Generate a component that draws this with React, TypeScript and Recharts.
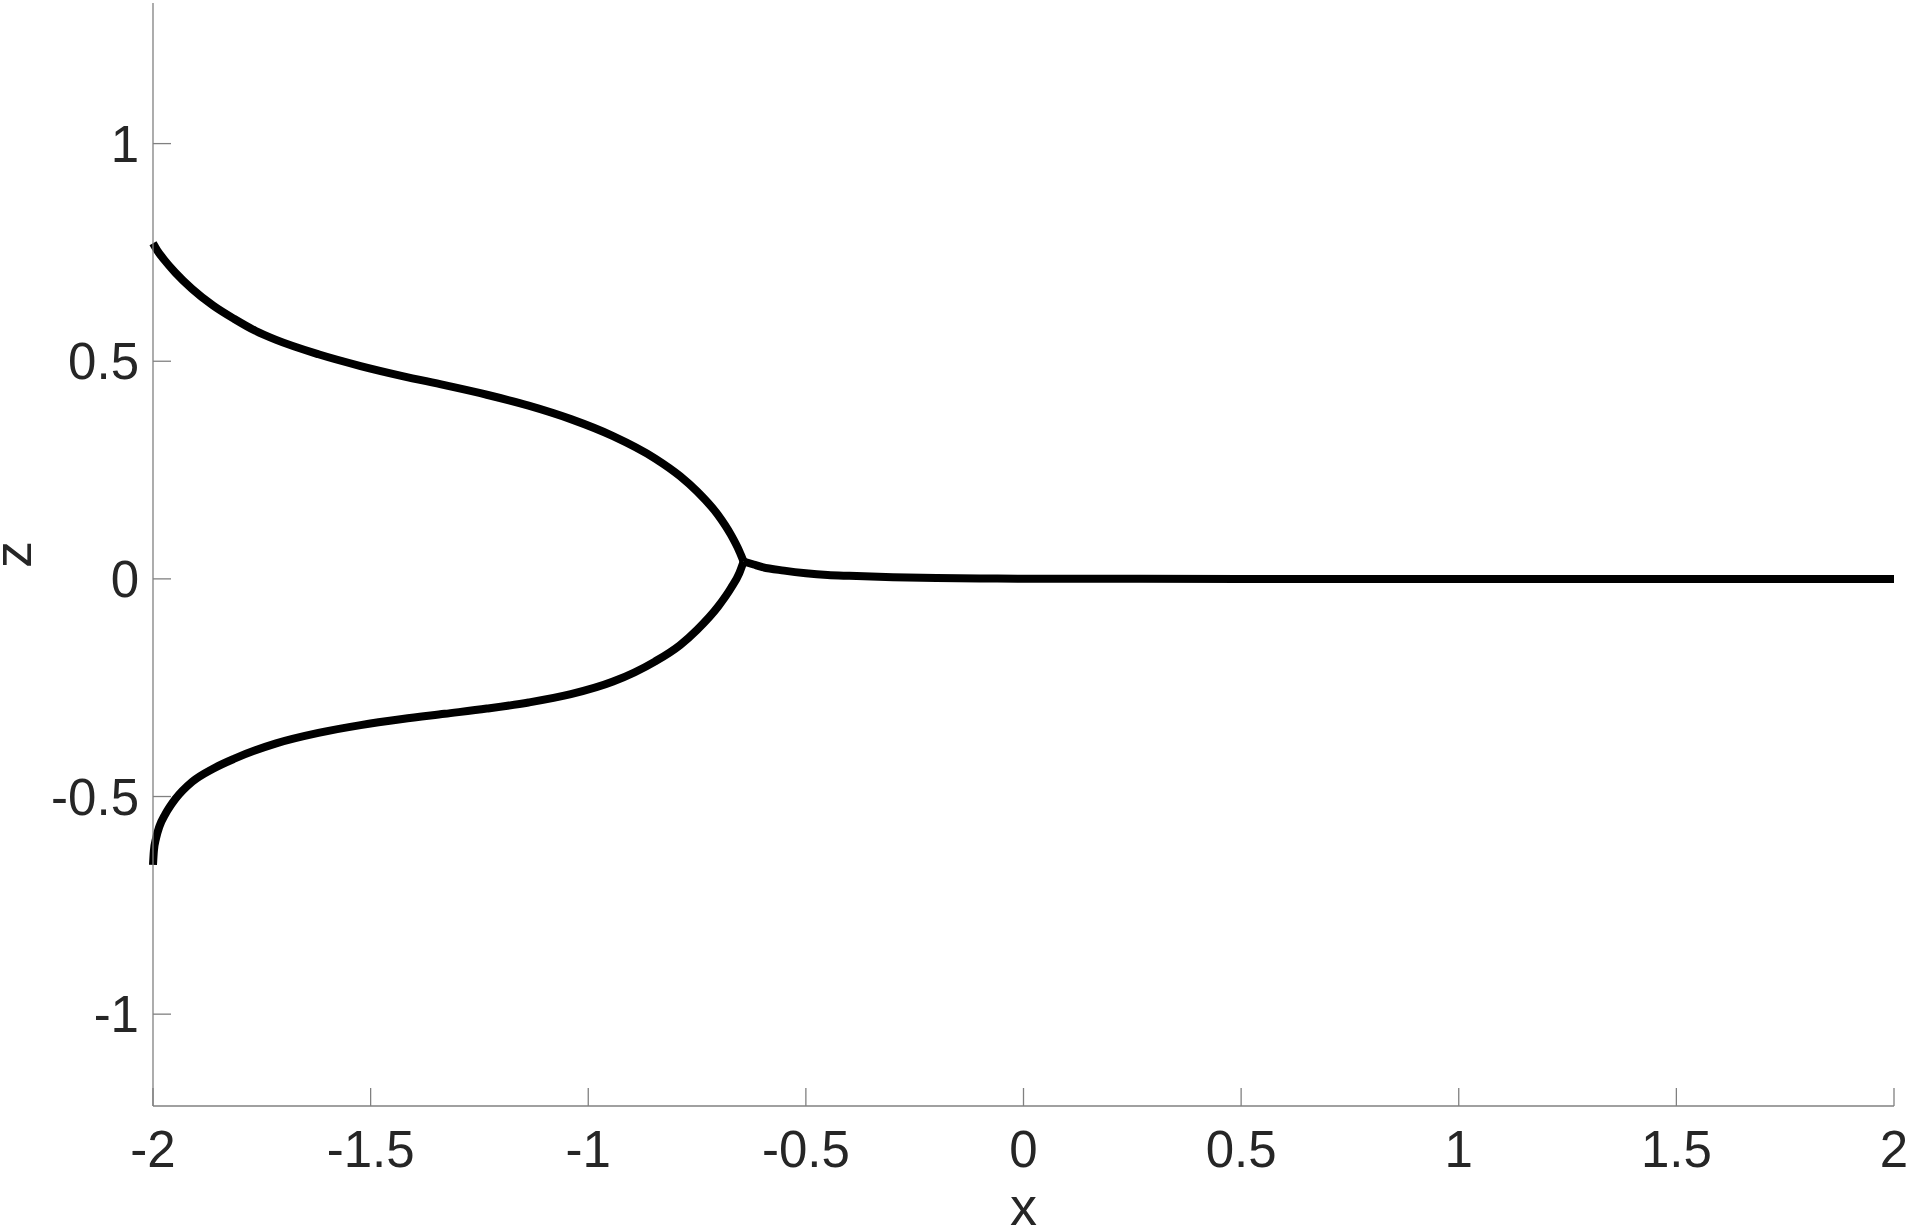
import React from 'react';
import { LineChart, Line, XAxis, YAxis, Label } from 'recharts';

const upperX = [-2.0, -1.99, -1.975, -1.949, -1.910, -1.862, -1.813, -1.765, -1.717, -1.620, -1.523, -1.427, -1.330, -1.233, -1.137, -1.040, -0.943, -0.847, -0.789, -0.750, -0.702, -0.672, -0.653, -0.643];
const upperZ = [0.771, 0.754, 0.734, 0.704, 0.666, 0.628, 0.597, 0.570, 0.549, 0.516, 0.489, 0.466, 0.445, 0.423, 0.398, 0.367, 0.328, 0.277, 0.236, 0.201, 0.147, 0.101, 0.064, 0.040];
const lowerX = [-2.0, -1.998, -1.993, -1.985, -1.972, -1.949, -1.910, -1.862, -1.813, -1.717, -1.620, -1.523, -1.427, -1.330, -1.233, -1.137, -1.040, -0.943, -0.847, -0.789, -0.750, -0.702, -0.672, -0.653, -0.643];
const lowerZ = [-0.657, -0.625, -0.596, -0.568, -0.541, -0.506, -0.466, -0.436, -0.413, -0.378, -0.354, -0.336, -0.322, -0.310, -0.298, -0.284, -0.265, -0.236, -0.190, -0.152, -0.117, -0.064, -0.021, 0.013, 0.040];
const rightX = [-0.643, -0.62, -0.6, -0.55, -0.5, -0.45, -0.4, -0.3, -0.2, -0.1, 0, 0.5, 1, 1.5, 2];
const rightZ = [0.040, 0.033, 0.027, 0.019, 0.013, 0.009, 0.007, 0.004, 0.002, 0.001, 0.0005, 0, 0, 0, 0];

const xTicks = [-2, -1.5, -1, -0.5, 0, 0.5, 1, 1.5, 2];
const yTicks = [-1, -0.5, 0, 0.5, 1];
const xLabel = 'x';
const yLabel = 'z';

const toRows = (xs: number[], zs: number[]) => xs.map((x, i) => ({ x, z: zs[i] }));
const upperData = toRows(upperX, upperZ);
const lowerData = toRows(lowerX, lowerZ);
const rightData = toRows(rightX, rightZ);

const FONT = '"Liberation Sans", Arial, Helvetica, sans-serif';
const AXIS_COLOR = '#808080';
const TEXT_COLOR = '#262626';

const XTick = (props: any) => {
  const { x, y, payload } = props;
  return (
    <g>
      <line x1={x} y1={y} x2={x} y2={y - 18} stroke={AXIS_COLOR} strokeWidth={1.3} />
      <text x={x} y={y + 61} textAnchor="middle" fill={TEXT_COLOR} fontSize={51} fontFamily={FONT}>
        {String(payload.value)}
      </text>
    </g>
  );
};

const YTick = (props: any) => {
  const { x, y, payload } = props;
  return (
    <g>
      <line x1={x} y1={y} x2={x + 18} y2={y} stroke={AXIS_COLOR} strokeWidth={1.3} />
      <text x={x - 14} y={y + 18} textAnchor="end" fill={TEXT_COLOR} fontSize={51} fontFamily={FONT}>
        {String(payload.value)}
      </text>
    </g>
  );
};

const XLabelContent = (props: any) => {
  const vb = props.viewBox || { x: 153, y: 1106, width: 1741, height: 123 };
  return (
    <text x={vb.x + vb.width / 2} y={vb.y + 119} textAnchor="middle" fill={TEXT_COLOR} fontSize={54} fontFamily={FONT}>
      {xLabel}
    </text>
  );
};

const YLabelContent = (props: any) => {
  const vb = props.viewBox || { x: 0, y: 3, width: 153, height: 1103 };
  const cx = 31;
  const cy = vb.y + vb.height / 2;
  return (
    <text x={cx} y={cy} transform={`rotate(-90, ${cx}, ${cy})`} textAnchor="middle" fill={TEXT_COLOR} fontSize={54} fontFamily={FONT}>
      {yLabel}
    </text>
  );
};

export default function App() {
  return (
    <div style={{ position: 'absolute', left: 0, top: 0, background: '#fff' }}>
      <LineChart width={1908} height={1229} margin={{ top: 3, right: 14, bottom: 0, left: 0 }}>
        <XAxis
          type="number"
          dataKey="x"
          domain={[-2, 2]}
          ticks={xTicks}
          interval={0}
          height={123}
          tickSize={0}
          tickMargin={0}
          tickLine={false}
          axisLine={{ stroke: AXIS_COLOR, strokeWidth: 1.3 }}
          tick={<XTick />}
        >
          <Label content={<XLabelContent />} />
        </XAxis>
        <YAxis
          type="number"
          dataKey="z"
          domain={[-1.211, 1.323]}
          ticks={yTicks}
          interval={0}
          width={153}
          tickSize={0}
          tickMargin={0}
          tickLine={false}
          axisLine={{ stroke: AXIS_COLOR, strokeWidth: 1.3 }}
          tick={<YTick />}
        >
          <Label content={<YLabelContent />} />
        </YAxis>
        <Line data={upperData} dataKey="z" type="monotone" stroke="#000" strokeWidth={8} dot={false} activeDot={false} isAnimationActive={false} />
        <Line data={lowerData} dataKey="z" type="monotone" stroke="#000" strokeWidth={8} dot={false} activeDot={false} isAnimationActive={false} />
        <Line data={rightData} dataKey="z" type="monotone" stroke="#000" strokeWidth={8} dot={false} activeDot={false} isAnimationActive={false} />
      </LineChart>
    </div>
  );
}
